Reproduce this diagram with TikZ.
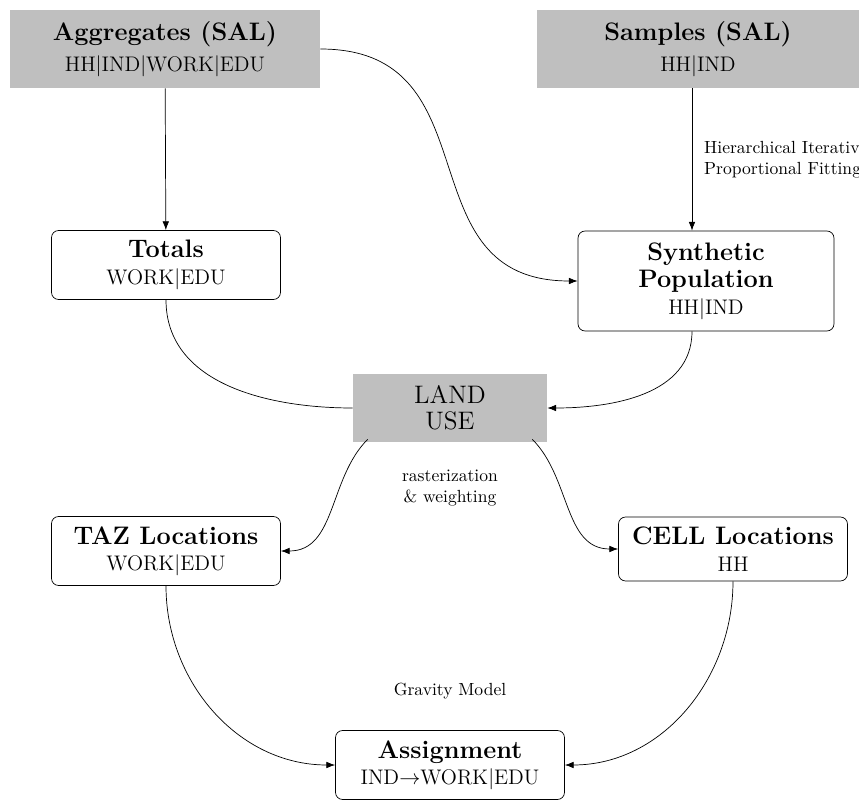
\documentclass[tikz,border=0pt]{standalone}
\usepackage{tikz}
\usetikzlibrary{arrows.meta,positioning,calc}
\begin{document}
\begin{tikzpicture}[
  x=0.02cm, y=-0.02cm,
  src/.style={fill=black!25, minimum width=6.2cm, minimum height=1.56cm, align=center},
  box/.style={draw, rounded corners, minimum width=4.58cm, minimum height=1.38cm, align=center},
  arr/.style={-{Latex[length=5pt]}},
  lbl/.style={font=\normalsize, align=center}
]
\useasboundingbox (0,0) rectangle (859,811);

% Sources
\node[src] (agg) at (165,49) {\Large\textbf{Aggregates (SAL)}\\[4pt]\large HH$|$IND$|$WORK$|$EDU};
\node[src, minimum width=6.44cm] (smp) at (698,49) {\Large\textbf{Samples (SAL)}\\[4pt]\large HH$|$IND};

% Intermediate
\node[box] (tot) at (166,265) {\Large\textbf{Totals}\\[3pt]\large WORK$|$EDU};
\node[box, minimum width=5.12cm, minimum height=2cm] (syn) at (706,281) {\Large\textbf{Synthetic}\\[2pt]\Large\textbf{Population}\\[3pt]\large HH$|$IND};
\node[src, minimum width=3.88cm, minimum height=1.36cm] (lu) at (450,408) {\Large LAND\\[3pt]\Large USE};

% Locations
\node[box] (taz) at (166,551) {\Large\textbf{TAZ Locations}\\[3pt]\large WORK$|$EDU};
\node[box, minimum height=1.28cm] (cell) at (733,549) {\Large\textbf{CELL Locations}\\[3pt]\large HH};
\node[box] (asg) at (450,765) {\Large\textbf{Assignment}\\[3pt]\large IND$\rightarrow$WORK$|$EDU};

% Labels
\node[lbl, align=left, anchor=west] (ipf) at (698,160) {Hierarchical Iterative\\Proportional Fitting};
\node[lbl] (rast) at (450,488) {rasterization\\\& weighting};
\node[lbl] (grav) at (450,691) {Gravity Model};

% Connectors
\draw[arr] (agg) -- (tot);
\draw[arr] (agg.east) to[out=0, in=180, looseness=1.3] (syn.west);
\draw[arr] (smp.south -| syn.north) ++(-14,0) coordinate (s0) -- (s0 |- syn.north);
\draw (tot.south) to[out=-90, in=180] (lu.west);
\draw[arr] ($(syn.south)+(-14,0)$) to[out=-90, in=0] (lu.east);
\draw[arr] ($(lu.south west)+(15,-3)$) to[out=-135, in=0] (taz.east);
\draw[arr] ($(lu.south east)+(-15,-3)$) to[out=-45, in=180] (cell.west);
\draw[arr] (taz.south) to[out=-90, in=180] (asg.west);
\draw[arr] (cell.south) to[out=-90, in=0] (asg.east);
\end{tikzpicture}
\end{document}
